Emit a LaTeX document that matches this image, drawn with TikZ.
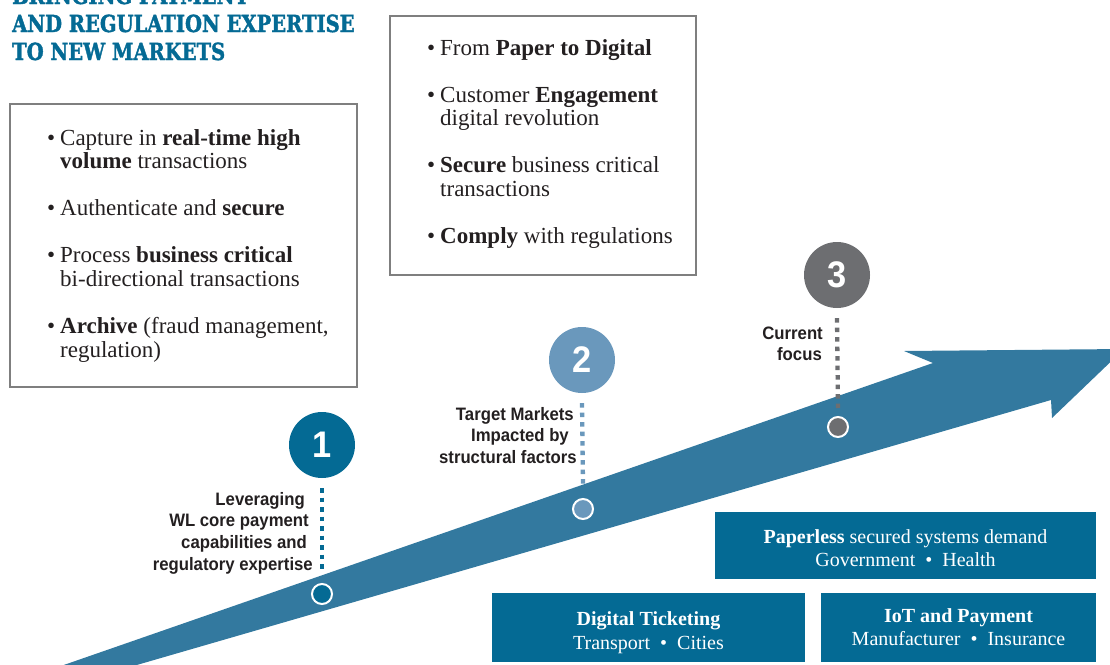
\documentclass[tikz,border=0pt]{standalone}
\usepackage{fontspec}
\setmainfont{Liberation Serif}
\newfontfamily\titlefont[FakeStretch=0.83, BoldFeatures={FakeBold=1.6}]{DejaVu Serif}
\newfontfamily\labfont[FakeStretch=0.93]{Liberation Sans}
\definecolor{tealdark}{HTML}{046A94}
\definecolor{arrowblue}{HTML}{33799F}
\definecolor{lightblue}{HTML}{6A98BC}
\definecolor{darkgrey}{HTML}{6D6E71}
\definecolor{framegrey}{HTML}{7F7F7F}
\definecolor{inkgrey}{HTML}{231F20}
\newcommand{\bul}{\makebox[13pt][l]{•}}
\newcommand{\ind}{\hspace*{13pt}}
\begin{document}
\begin{tikzpicture}[x=1pt,y=-1pt,
  titletext/.style={font=\titlefont\bfseries\fontsize{23.5}{28}\selectfont, text=tealdark, inner sep=0pt},
  framebox/.style={draw=framegrey, line width=2pt, fill=none, rectangle, inner sep=0pt},
  listtext/.style={font=\fontsize{23}{23.7}\selectfont, text=inkgrey, inner sep=0pt},
  lab/.style={font=\labfont\bfseries\fontsize{18}{21.7}\selectfont, text=inkgrey, inner sep=0pt},
  bigc/.style={circle, minimum size=66pt, inner sep=0pt, text=white, font=\labfont\bfseries\fontsize{37}{37}\selectfont},
  smallc/.style={circle, minimum size=20pt, inner sep=0pt, draw=white, line width=2pt},
  dotline/.style={line width=4.3pt, dash pattern=on 4.5pt off 5pt},
  tealbox/.style={rectangle, fill=tealdark, inner sep=0pt, draw=none},
  boxtxt/.style={font=\fontsize{20}{24}\selectfont, text=white, inner sep=0pt}
]
\path[use as bounding box] (0,0) rectangle (1110,664);
\clip (0,0) rectangle (1110,664);

% title
\node[titletext, anchor=base west] (t0) at (12,4) {BRINGING PAYMENT};
\node[titletext, anchor=base west] (t1) at (12,32) {AND REGULATION EXPERTISE};
\node[titletext, anchor=base west] (t2) at (12,60) {TO NEW MARKETS};

% bullet boxes
\node[framebox, minimum width=347pt, minimum height=283pt, anchor=north west] (box1) at (9,103) {};
\node[listtext, anchor=base west] (list1) at (47,145) {\parbox[t]{300pt}{\raggedright
\bul Capture in \textbf{real-time high}\\
\ind\textbf{volume} transactions\\[23.3pt]
\bul Authenticate and \textbf{secure}\\[23.3pt]
\bul Process \textbf{business critical}\\
\ind bi-directional transactions\\[23.3pt]
\bul\textbf{Archive} (fraud management,\\
\ind regulation)}};

\node[framebox, minimum width=306pt, minimum height=259pt, anchor=north west] (box2) at (389,15) {};
\node[listtext, anchor=base west] (list2) at (427,55) {\parbox[t]{265pt}{\raggedright
\bul From \textbf{Paper to Digital}\\[23.3pt]
\bul Customer \textbf{Engagement}\\
\ind digital revolution\\[23.3pt]
\bul\textbf{Secure} business critical\\
\ind transactions\\[23.3pt]
\bul\textbf{Comply} with regulations}};

% arrow band
\fill[arrowblue] (-37,700) -- (933,363) -- (904,351) -- (1124,349) -- (1052,418) -- (1051,400) -- (16,700) -- cycle;

% milestones
\node[smallc, fill=tealdark] (s1) at (322,594) {};
\node[smallc, fill=lightblue] (s2) at (583,509) {};
\node[smallc, fill=darkgrey] (s3) at (838,427) {};
\node[bigc, fill=tealdark] (b1) at (322,445) {1};
\node[bigc, fill=lightblue] (b2) at (582,360) {2};
\node[bigc, fill=darkgrey] (b3) at (837,275) {3};
\draw[dotline, draw=tealdark] ([yshift=-10pt]b1.south) -- ([yshift=11pt]s1.north);
\draw[dotline, draw=lightblue] ([yshift=-10pt]b2.south) -- ([yshift=13pt]s2.north);
\draw[dotline, draw=darkgrey] ([yshift=-10pt]b3.south) -- ([yshift=8pt]s3.north);

% labels
\node[lab, anchor=base east] (l1) at (313,505) {\parbox[t]{220pt}{\raggedleft
Leveraging\kern8pt\\ WL core payment\kern4pt\\ capabilities and\kern6pt\\ regulatory expertise}};
\node[lab, anchor=base east] (l2) at (577,420) {\parbox[t]{200pt}{\raggedleft
Target Markets\kern3pt\\ Impacted by\kern8pt\\ structural factors}};
\node[lab, anchor=base east] (l3) at (823,339) {\parbox[t]{120pt}{\raggedleft
Current\\ focus\kern1pt}};

% market boxes
\node[tealbox, minimum width=381pt, minimum height=67pt] (pap) at (905.5,545.5) {};
\node[boxtxt, anchor=base] (papa) at (905.5,543) {\textbf{Paperless} secured systems demand};
\node[boxtxt, anchor=base] (papb) at (905.5,566) {Government\enspace•\enspace Health};

\node[tealbox, minimum width=313pt, minimum height=69pt] (dig) at (648.5,627.5) {};
\node[boxtxt, anchor=base] (diga) at (648.5,625) {\textbf{Digital Ticketing}};
\node[boxtxt, anchor=base] (digb) at (648.5,649) {Transport\enspace•\enspace Cities};

\node[tealbox, minimum width=275pt, minimum height=69pt] (iot) at (958.5,627.5) {};
\node[boxtxt, anchor=base] (iota) at (958.5,622) {\textbf{IoT and Payment}};
\node[boxtxt, anchor=base] (iotb) at (958.5,645) {Manufacturer\enspace•\enspace Insurance};
\end{tikzpicture}
\end{document}
